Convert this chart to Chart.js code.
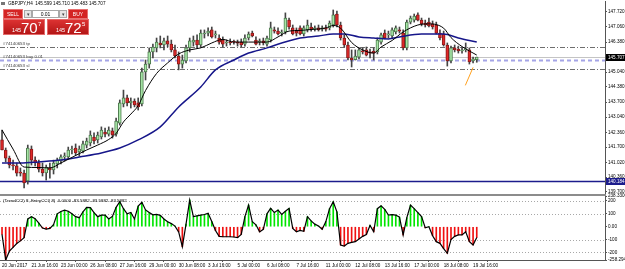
<!DOCTYPE html>
<html lang="en">
<head>
<meta charset="UTF-8">
<title>GBPJPY,H4</title>
<script src="https://cdn.jsdelivr.net/npm/chart.js"></script>
<style>
    html, body { margin: 0; padding: 0; background: #fff; }
    body { position: relative; width: 625px; height: 269px; overflow: hidden; font-family: "Liberation Sans", Arial, sans-serif; }
    canvas { position: absolute; left: 0; }
    #priceChart { top: 0; }
    #cciChart { top: 192px; }
    .sep { position: absolute; left: 0; top: 194px; width: 606px; height: 2px; background: #8c8c8c; }
    .ui { position: absolute; z-index: 2; white-space: nowrap; box-sizing: border-box; }
    #title { left: 1px; top: 0; font-size: 4.6px; line-height: 8px; color: #000; }
    #title i { display: inline-block; width: 4px; height: 3px; background: #777; margin-right: 3px; vertical-align: middle; }
    .btn { top: 9px; height: 10px; width: 20px; background: #d42424; color: #fff; font-size: 5px; line-height: 8px; text-align: center; border: 1px solid #e87070; }
    .sell { left: 3px; }
    .buy { left: 68px; }
    .spin { top: 10px; width: 8px; height: 8px; background: #e6e6e6; border: 1px solid #a8a8a8; font-size: 5px; line-height: 6px; text-align: center; color: #444; }
    .spin.l { left: 24px; }
    .spin.r { left: 59px; }
    .lot { left: 32px; top: 10px; width: 27px; height: 8px; background: #fff; border: 1px solid #a8a8a8; font-size: 5px; line-height: 6px; text-align: center; color: #000; }
    .quote { top: 19px; height: 16px; width: 42px; background: linear-gradient(#dc3232, #b41616); color: #fff; border: 1px solid #e46a6a; }
    .q1 { left: 3px; }
    .q2 { left: 47px; }
    .quote span { position: absolute; }
    .quote .s { left: 8px; top: 7px; font-size: 5.5px; line-height: 6px; }
    .quote .b { left: 17px; top: 0; font-size: 15px; line-height: 15px; }
    .quote .p { left: 34px; top: 1px; font-size: 6px; line-height: 6px; }
</style>
</head>
<body>
    <canvas id="priceChart" width="625" height="195"></canvas>
    <div class="sep"></div>
    <canvas id="cciChart" width="625" height="77"></canvas>

    <div class="ui" id="title"><i></i>GBPJPY,H4&nbsp; 145.599 145.710 145.483 145.707</div>
    <div class="ui btn sell">SELL</div>
    <div class="ui spin l">&#9662;</div>
    <div class="ui lot">0.01</div>
    <div class="ui spin r">&#9662;</div>
    <div class="ui btn buy">BUY</div>
    <div class="ui quote q1"><span class="s">145</span><span class="b">70</span><span class="p">7</span></div>
    <div class="ui quote q2"><span class="s">145</span><span class="b">72</span><span class="p">5</span></div>

    <script>
        // H4 bars from 20 Jun 08:00 to 19 Jul 20:00 (index = bar number)
        const candleOpen = [
            142.02, 141.57, 141.21, 140.90, 140.86, 140.59, 140.54, 140.19, 141.61, 141.12,
            140.99, 140.72, 140.55, 140.77, 140.68, 140.95, 141.08, 141.26, 141.26, 141.57,
            141.66, 141.48, 141.52, 141.79, 141.88, 142.15, 142.02, 142.15, 142.37, 142.28,
            142.42, 142.28, 142.77, 143.62, 143.89, 143.67, 143.75, 143.67, 143.62, 145.05,
            145.40, 145.94, 146.12, 146.34, 146.25, 146.43, 146.29, 146.03, 145.76, 145.40,
            145.54, 146.12, 146.38, 146.47, 146.25, 146.74, 146.78, 146.92, 146.70, 146.56,
            146.47, 146.34, 146.38, 146.38, 146.34, 146.38, 146.29, 146.56, 146.78, 146.47,
            146.38, 146.43, 146.29, 146.47, 146.92, 146.87, 146.78, 146.83, 147.36, 147.01,
            146.87, 147.01, 146.74, 146.92, 147.05, 146.96, 147.01, 146.96, 147.01, 147.01,
            147.14, 147.63, 147.14, 146.56, 146.25, 145.67, 145.60, 145.71, 145.98, 146.03,
            145.94, 145.98, 145.94, 146.38, 146.78, 146.70, 146.65, 146.83, 146.92, 146.78,
            146.12, 147.27, 147.36, 147.59, 147.36, 147.23, 147.27, 147.19, 147.14, 146.78,
            146.74, 146.25, 145.54, 146.12, 146.07, 145.98, 146.03, 146.03, 145.54, 145.60
        ];
        const candleHigh = [
            142.46, 141.66, 141.30, 141.12, 140.99, 140.77, 140.68, 141.79, 141.75, 141.26,
            141.12, 140.99, 140.90, 140.99, 141.12, 141.21, 141.35, 141.44, 141.70, 141.75,
            141.84, 141.75, 141.97, 142.10, 142.42, 142.33, 142.37, 142.60, 142.55, 142.60,
            142.55, 142.99, 143.80, 144.24, 144.02, 143.89, 143.85, 143.89, 145.22, 145.58,
            146.12, 146.29, 146.56, 146.65, 146.56, 146.65, 146.47, 146.25, 145.94, 145.80,
            146.25, 146.56, 146.65, 146.70, 146.92, 146.92, 147.01, 147.05, 146.87, 146.70,
            146.61, 146.47, 146.52, 146.47, 146.47, 146.52, 146.70, 146.83, 146.87, 146.61,
            146.52, 146.56, 146.65, 147.27, 147.05, 147.01, 146.92, 147.68, 147.45, 147.14,
            147.01, 147.10, 147.10, 147.36, 147.23, 147.10, 147.14, 147.10, 147.14, 147.32,
            147.81, 147.76, 147.27, 146.70, 146.38, 146.03, 146.03, 146.12, 146.12, 146.16,
            146.07, 146.12, 146.56, 146.78, 146.92, 146.87, 147.01, 147.10, 147.05, 146.92,
            147.36, 147.54, 147.63, 147.68, 147.45, 147.36, 147.45, 147.32, 147.27, 146.92,
            146.87, 146.34, 146.20, 146.25, 146.20, 146.12, 146.34, 146.12, 145.71, 145.71
        ];
        const candleLow = [
            141.57, 141.04, 140.77, 140.68, 140.41, 140.41, 139.88, 140.05, 140.90, 140.86,
            140.59, 140.41, 140.23, 140.32, 140.50, 140.77, 140.95, 141.08, 141.17, 141.39,
            141.35, 141.30, 141.44, 141.66, 141.75, 141.84, 141.88, 142.06, 142.15, 142.19,
            142.10, 142.19, 142.68, 143.49, 143.53, 143.44, 143.49, 143.35, 143.53, 144.69,
            145.22, 145.67, 145.94, 146.12, 146.03, 146.16, 145.94, 145.67, 145.14, 145.22,
            145.45, 145.94, 146.20, 146.12, 146.16, 146.56, 146.65, 146.56, 146.56, 146.29,
            146.16, 146.20, 146.25, 146.29, 146.20, 146.16, 146.20, 146.47, 146.61, 146.25,
            146.25, 146.25, 146.20, 146.38, 146.78, 146.70, 146.65, 146.74, 146.96, 146.70,
            146.65, 146.70, 146.65, 146.83, 146.87, 146.87, 146.87, 146.87, 146.87, 146.92,
            147.05, 147.05, 146.47, 146.16, 145.58, 145.27, 145.58, 145.63, 145.85, 145.76,
            145.67, 145.58, 145.85, 146.29, 146.52, 146.56, 146.56, 146.74, 146.78, 146.03,
            146.03, 147.19, 147.27, 147.32, 147.10, 147.05, 147.05, 146.96, 146.74, 146.47,
            146.20, 145.31, 145.45, 145.94, 145.89, 145.89, 145.94, 145.40, 145.45, 145.48
        ];
        const candleClose = [
            141.57, 141.21, 140.90, 140.86, 140.54, 140.54, 140.10, 141.66, 141.12, 140.99,
            140.72, 140.55, 140.81, 140.68, 140.99, 141.12, 141.26, 141.30, 141.57, 141.61,
            141.44, 141.61, 141.84, 141.97, 142.24, 141.97, 142.24, 142.46, 142.28, 142.46,
            142.24, 142.86, 143.67, 143.89, 143.67, 143.75, 143.58, 143.49, 145.05, 145.40,
            145.94, 146.16, 146.38, 146.25, 146.43, 146.29, 146.03, 145.76, 145.40, 145.58,
            146.12, 146.43, 146.47, 146.25, 146.78, 146.78, 146.87, 146.61, 146.74, 146.38,
            146.29, 146.38, 146.34, 146.37, 146.33, 146.25, 146.56, 146.74, 146.65, 146.29,
            146.43, 146.34, 146.56, 147.01, 146.87, 146.74, 146.83, 147.45, 147.05, 146.74,
            146.78, 146.74, 147.01, 147.14, 146.96, 147.01, 146.92, 147.01, 146.96, 147.23,
            147.59, 147.14, 146.56, 146.25, 145.67, 145.58, 145.76, 146.03, 145.94, 145.80,
            145.89, 145.89, 146.47, 146.70, 146.56, 146.74, 146.92, 147.01, 146.87, 146.12,
            147.27, 147.45, 147.54, 147.36, 147.19, 147.14, 147.10, 147.05, 146.78, 146.56,
            146.25, 145.54, 146.12, 146.03, 145.98, 146.03, 146.07, 145.49, 145.63, 145.71
        ];

        // moving averages (bar index / value)
        const fastMaBars = [0, 3, 6, 10, 13, 16, 19, 23, 26, 29, 31, 33, 35, 37, 39, 42, 45, 48, 51, 54, 57, 60, 63, 67, 72, 75, 78, 81, 84, 88, 90, 92, 95, 98, 101, 103, 106, 109, 113, 116, 120, 122, 125, 129];
        const fastMaValues = [142.46, 141.61, 140.81, 140.79, 140.77, 140.99, 141.24, 141.57, 141.79, 142.04, 142.31, 142.82, 143.17, 143.55, 144.22, 144.98, 145.45, 145.85, 146.03, 146.12, 146.34, 146.50, 146.38, 146.38, 146.38, 146.61, 146.87, 146.90, 146.94, 147.01, 147.12, 147.00, 146.36, 146.03, 145.89, 146.16, 146.45, 146.83, 147.14, 147.19, 147.00, 146.58, 146.18, 145.80];
        const slowMaBars = [0, 5, 10, 16, 21, 27, 32, 37, 43, 48, 54, 58, 63, 67, 72, 76, 81, 86, 90, 93, 97, 101, 105, 108, 114, 120, 124, 129];
        const slowMaValues = [140.99, 140.99, 141.04, 141.12, 141.26, 141.44, 141.66, 142.02, 142.60, 143.49, 144.38, 145.14, 145.58, 145.89, 146.12, 146.34, 146.56, 146.65, 146.74, 146.74, 146.61, 146.56, 146.52, 146.61, 146.74, 146.74, 146.56, 146.38];

        // short orange trendline near the last bars
        const trendBars = [128, 125.9];
        const trendValues = [145.25, 144.45];

        // price levels
        const priceTicks = [147.720, 147.060, 146.380, 145.720, 145.040, 144.380, 143.700, 143.040, 142.360, 141.700, 141.020, 140.360, 139.700];
        const orderNames = ['#74140653 tp', '#74140653 buy 0.01', '#74140653 sl'];
        const orderPrices = [146.14, 145.58, 145.17];
        const bidPrice = 145.707;
        const hLinePrice = 140.184;

        // TrendCCI histogram / line
        const cciValues = [
            -60, -258.29, -190, -160, -130, -110, -85, 60, 78, 62,
            28, -10, -18, -13, 15, 100, 118, 128, 120, 100,
            78, 70, 116, 150, 148, 110, 78, 90, 91, 60,
            80, 150, 194, 140, 100, 110, 60, 160, 190, 130,
            110, 92, 96, 88, 60, 38, 24, 5, -40, -155,
            20, 207, 78, 84, 90, 95, 104, 40, -30, -75,
            -78, -78, -78, -80, -85, -60, 78, 168, 39, 15,
            -40, -20, 100, 143, 110, 129, 95, 120, 143, -13,
            -39, -28, -35, 78, 45, 20, 5, -20, 40, 140,
            194, 116, -142, -150, -129, -122, -116, -95, -75, -60,
            10, -39, 140, 163, 135, 91, 94, 90, 75, -64,
            70, 168, 140, 110, 78, -8, 0, -70, -116, -129,
            -170, -206, -100, -75, -64, -64, -39, -116, -142, -84
        ];
        const cciTicks = [238.3306, 200, 100, 0, -100, -200, -258.2942];
        const cciLevels = [200, 100, -100, -200];

        const xTickBars = [0, 8, 16, 24, 32, 40, 48, 56, 64, 72, 80, 88, 96, 104, 112, 120, 128];
        const xTickLabels = ['20 Jun 2017', '21 Jun 16:00', '23 Jun 00:00', '26 Jun 08:00', '27 Jun 16:00', '29 Jun 00:00', '30 Jun 08:00', '3 Jul 16:00', '5 Jul 00:00', '6 Jul 08:00', '7 Jul 16:00', '11 Jul 00:00', '12 Jul 08:00', '13 Jul 16:00', '17 Jul 00:00', '18 Jul 08:00', '19 Jul 16:00'];

        const xMin = -0.55, xMax = 163.85;
        const priceMin = 139.609, priceMax = 148.21;
        const cciMin = -258.2942, cciMax = 238.3306;

        Chart.defaults.font.family = '"Liberation Sans", Arial, sans-serif';
        Chart.defaults.font.size = 4.6;
        Chart.defaults.color = '#000';

        const barIdx = candleOpen.map((_, i) => i);
        const up = i => candleClose[i] >= candleOpen[i];

        function hline(ctx, area, y, color, width, dash) {
            ctx.save();
            ctx.strokeStyle = color;
            ctx.lineWidth = width;
            ctx.setLineDash(dash);
            ctx.beginPath();
            ctx.moveTo(area.left, Math.round(y) + 0.5);
            ctx.lineTo(area.right, Math.round(y) + 0.5);
            ctx.stroke();
            ctx.restore();
        }

        function axisBox(ctx, chart, y, fill, text) {
            const a = chart.chartArea;
            ctx.save();
            ctx.fillStyle = fill;
            ctx.fillRect(a.right + 1, Math.round(y) - 3, chart.width - a.right - 1, 7);
            ctx.fillStyle = '#fff';
            ctx.font = '4.6px "Liberation Sans", Arial, sans-serif';
            ctx.textBaseline = 'middle';
            ctx.fillText(text, a.right + 3, Math.round(y) + 0.5);
            ctx.restore();
        }

        const priceOverlay = {
            id: 'priceOverlay',
            beforeDatasetsDraw(chart) {
                const { ctx, chartArea: a, scales: { y } } = chart;
                hline(ctx, a, y.getPixelForValue(bidPrice), '#c4c4c4', 1, []);
                hline(ctx, a, y.getPixelForValue(orderPrices[0]), '#6e6e6e', 1, [5, 2, 1, 2]);
                hline(ctx, a, y.getPixelForValue(orderPrices[1]), '#a4a4e6', 2, [4, 3]);
                hline(ctx, a, y.getPixelForValue(orderPrices[2]), '#6e6e6e', 1, [5, 2, 1, 2]);
                hline(ctx, a, y.getPixelForValue(hLinePrice), '#1c1c8c', 1.5, []);
            },
            afterDraw(chart) {
                const { ctx, scales: { y } } = chart;
                ctx.save();
                ctx.fillStyle = '#3a3a3a';
                ctx.font = '4.4px "Liberation Sans", Arial, sans-serif';
                ctx.textBaseline = 'bottom';
                orderNames.forEach((name, k) => {
                    ctx.fillText(name, 3, Math.round(y.getPixelForValue(orderPrices[k])) - 1);
                });
                ctx.restore();
                axisBox(ctx, chart, y.getPixelForValue(bidPrice), '#000', bidPrice.toFixed(3));
                axisBox(ctx, chart, y.getPixelForValue(hLinePrice), '#1c1c8c', hLinePrice.toFixed(3));
            }
        };

        new Chart(document.getElementById('priceChart'), {
            type: 'bar',
            data: {
                datasets: [
                    {
                        type: 'line',
                        data: fastMaBars.map((b, k) => ({ x: b, y: fastMaValues[k] })),
                        borderColor: '#000',
                        borderWidth: 1,
                        pointRadius: 0,
                        cubicInterpolationMode: 'monotone',
                        order: 0
                    },
                    {
                        type: 'line',
                        data: trendBars.map((b, k) => ({ x: b, y: trendValues[k] })),
                        borderColor: '#ffa01e',
                        borderWidth: 1,
                        pointRadius: 0,
                        order: 0
                    },
                    {
                        type: 'line',
                        data: slowMaBars.map((b, k) => ({ x: b, y: slowMaValues[k] })),
                        borderColor: '#16168a',
                        borderWidth: 1.5,
                        pointRadius: 0,
                        cubicInterpolationMode: 'monotone',
                        order: 1
                    },
                    {
                        // candle bodies
                        data: barIdx.map(i => ({ x: i, y: [Math.min(candleOpen[i], candleClose[i]), Math.max(candleOpen[i], candleClose[i])] })),
                        backgroundColor: barIdx.map(i => up(i) ? '#a6e6a6' : '#e02828'),
                        borderColor: barIdx.map(i => up(i) ? '#4e7a4e' : '#8a1a1a'),
                        borderWidth: 1,
                        borderSkipped: false,
                        barThickness: 3,
                        minBarLength: 1,
                        grouped: false,
                        order: 2
                    },
                    {
                        // wicks
                        data: barIdx.map(i => ({ x: i, y: [candleLow[i], candleHigh[i]] })),
                        backgroundColor: '#454545',
                        barThickness: 1,
                        grouped: false,
                        order: 3
                    }
                ]
            },
            options: {
                responsive: false,
                animation: false,
                layout: { padding: { top: 1, bottom: 1, left: 0, right: 0 } },
                plugins: { legend: { display: false }, tooltip: { enabled: false } },
                scales: {
                    x: { type: 'linear', display: false, min: xMin, max: xMax, offset: false },
                    y: {
                        type: 'linear',
                        position: 'right',
                        min: priceMin,
                        max: priceMax,
                        afterBuildTicks: s => { s.ticks = priceTicks.map(v => ({ value: v })); },
                        afterFit: s => { s.width = 20; s.paddingTop = 0; s.paddingBottom = 0; },
                        ticks: { callback: v => v.toFixed(3), padding: 1, color: '#000' },
                        grid: { drawOnChartArea: false, tickLength: 2, color: '#555' },
                        border: { color: '#555' }
                    }
                }
            },
            plugins: [priceOverlay]
        });

        const cciOverlay = {
            id: 'cciOverlay',
            beforeDatasetsDraw(chart) {
                const { ctx, chartArea: a, scales: { y } } = chart;
                cciLevels.forEach(l => hline(ctx, a, y.getPixelForValue(l), '#a8a8a8', 1, [1, 2]));
            },
            afterDraw(chart) {
                const { ctx, chartArea: a } = chart;
                ctx.save();
                ctx.fillStyle = '#000';
                ctx.font = '4.4px "Liberation Sans", Arial, sans-serif';
                ctx.textBaseline = 'top';
                ctx.fillText('(TrendCCI) 8, EntryCCI) 8)  0.0000 -83.5882 -83.5882 -83.5882', 3, a.top + 3);
                ctx.restore();
            }
        };

        new Chart(document.getElementById('cciChart'), {
            type: 'bar',
            data: {
                datasets: [
                    {
                        type: 'line',
                        data: barIdx.map(i => ({ x: i, y: cciValues[i] })),
                        borderColor: '#000',
                        borderWidth: 1.2,
                        pointRadius: 0,
                        order: 0
                    },
                    {
                        data: barIdx.map(i => ({ x: i, y: cciValues[i] })),
                        backgroundColor: cciValues.map(v => v >= 0 ? '#00e600' : '#f01010'),
                        barThickness: 1,
                        grouped: false,
                        order: 1
                    }
                ]
            },
            options: {
                responsive: false,
                animation: false,
                layout: { padding: { top: 4, bottom: 0, left: 0, right: 0 } },
                plugins: { legend: { display: false }, tooltip: { enabled: false } },
                scales: {
                    x: {
                        type: 'linear',
                        min: xMin,
                        max: xMax,
                        offset: false,
                        afterBuildTicks: s => { s.ticks = xTickBars.map(v => ({ value: v })); },
                        afterFit: s => { s.height = 9; },
                        ticks: { callback: (v, i) => xTickLabels[i], align: 'start', maxRotation: 0, autoSkip: false, padding: 1, color: '#000' },
                        grid: { drawOnChartArea: false, tickLength: 2, color: '#555' },
                        border: { color: '#555' }
                    },
                    y: {
                        type: 'linear',
                        position: 'right',
                        min: cciMin,
                        max: cciMax,
                        afterBuildTicks: s => { s.ticks = cciTicks.map(v => ({ value: v })); },
                        afterFit: s => { s.width = 20; s.paddingTop = 0; s.paddingBottom = 0; },
                        ticks: {
                            callback: v => v === 0 ? '0.00' : (Number.isInteger(v) ? String(v) : v.toFixed(4)),
                            padding: 1,
                            color: '#000'
                        },
                        grid: { drawOnChartArea: false, tickLength: 2, color: '#555' },
                        border: { color: '#555' }
                    }
                }
            },
            plugins: [cciOverlay]
        });
    </script>
</body>
</html>
